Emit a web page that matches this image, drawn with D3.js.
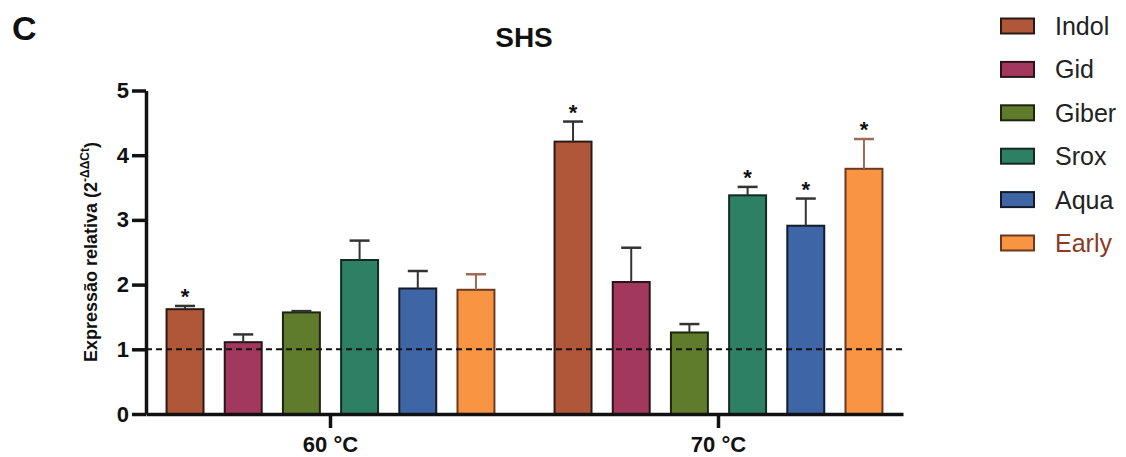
<!DOCTYPE html>
<html>
<head>
<meta charset="utf-8">
<script src="https://cdn.jsdelivr.net/npm/d3@7"></script>
<style>
  html, body { margin: 0; padding: 0; background: #fff; }
  svg { display: block; font-family: "Liberation Sans", Arial, sans-serif; }
</style>
</head>
<body>
<svg id="chart" width="1126" height="457"></svg>
<script>
// Temperature groups on the x axis
const groups = ["60 °C", "70 °C"];
// Treatments (one bar per treatment inside each group)
const treatments = ["Indol", "Gid", "Giber", "Srox", "Aqua", "Early"];

// Mean relative expression (2^-ΔΔCt), one value per group
const indolMean = [1.62, 4.21];
const gidMean   = [1.11, 2.04];
const giberMean = [1.57, 1.26];
const sroxMean  = [2.38, 3.38];
const aquaMean  = [1.94, 2.91];
const earlyMean = [1.92, 3.79];

// Upper error (standard error) for each bar
const indolErr = [0.05, 0.31];
const gidErr   = [0.12, 0.53];
const giberErr = [0.02, 0.13];
const sroxErr  = [0.30, 0.13];
const aquaErr  = [0.27, 0.42];
const earlyErr = [0.24, 0.46];

// Significance markers (*)
const indolSig = [true, true];
const gidSig   = [false, false];
const giberSig = [false, false];
const sroxSig  = [false, true];
const aquaSig  = [false, true];
const earlySig = [false, true];

const yTicks = [0, 1, 2, 3, 4, 5];
const referenceLevel = 1;

const means = [indolMean, gidMean, giberMean, sroxMean, aquaMean, earlyMean];
const errs  = [indolErr, gidErr, giberErr, sroxErr, aquaErr, earlyErr];
const sigs  = [indolSig, gidSig, giberSig, sroxSig, aquaSig, earlySig];

const fills   = ["#b0573a", "#a3385f", "#5e7c2c", "#2e8065", "#3e66a6", "#f99443"];
const strokes = ["#2a1a14", "#2a1418", "#1e2410", "#142a20", "#141c2a", "#6b3a1e"];
const errCols = ["#333333", "#333333", "#333333", "#333333", "#333333", "#a06a58"];
const legendText = ["#222", "#222", "#222", "#222", "#222", "#8a3b25"];

const rows = [];
groups.forEach((g, gi) => {
  treatments.forEach((t, ti) => {
    rows.push({ group: g, t, ti, mean: means[ti][gi], err: errs[ti][gi], sig: sigs[ti][gi] });
  });
});

const svg = d3.select("#chart");
const FONT = '"Liberation Sans", Arial, sans-serif';

const x0 = d3.scaleBand().domain(groups).range([146, 903])
  .paddingInner(0.098).paddingOuter(0.0245);
const x1 = d3.scaleBand().domain(treatments).range([0, x0.bandwidth()])
  .paddingInner(0.365).paddingOuter(0.19);
const y = d3.scaleLinear().domain([0, 5]).range([414, 90.5]);

// Panel letter and title
svg.append("text").attr("x", 12).attr("y", 40)
  .attr("font-size", 34).attr("font-weight", "bold").attr("fill", "#111").text("C");
svg.append("text").attr("x", 524).attr("y", 47).attr("text-anchor", "middle")
  .attr("font-size", 28).attr("font-weight", "bold").attr("fill", "#111").text("SHS");

// Bars
const bars = svg.append("g");
bars.selectAll("rect").data(rows).join("rect")
  .attr("x", d => x0(d.group) + x1(d.t))
  .attr("y", d => y(d.mean))
  .attr("width", x1.bandwidth())
  .attr("height", d => y(0) - y(d.mean))
  .attr("fill", d => fills[d.ti])
  .attr("stroke", d => strokes[d.ti])
  .attr("stroke-width", 2);

// Upper error bars
const capW = 20;
const eb = svg.append("g");
rows.forEach(d => {
  const cx = x0(d.group) + x1(d.t) + x1.bandwidth() / 2;
  const top = y(d.mean + d.err);
  eb.append("line").attr("x1", cx).attr("x2", cx).attr("y1", y(d.mean)).attr("y2", top)
    .attr("stroke", errCols[d.ti]).attr("stroke-width", 2);
  eb.append("line").attr("x1", cx - capW / 2).attr("x2", cx + capW / 2).attr("y1", top).attr("y2", top)
    .attr("stroke", errCols[d.ti]).attr("stroke-width", 2.5);
  if (d.sig) {
    eb.append("text").attr("x", cx).attr("y", top - 2).attr("text-anchor", "middle")
      .attr("font-size", 22).attr("font-weight", "bold").attr("fill", "#111").text("*");
  }
});

// Reference line at relative expression = 1
svg.append("line")
  .attr("x1", 146).attr("x2", 903)
  .attr("y1", y(referenceLevel)).attr("y2", y(referenceLevel))
  .attr("stroke", "#111").attr("stroke-width", 2).attr("stroke-dasharray", "6,4");

// Y axis
const yAxis = svg.append("g").attr("transform", "translate(146,0)")
  .call(d3.axisLeft(y).tickValues(yTicks).tickFormat(d3.format("d")).tickSize(14).tickSizeOuter(0).tickPadding(3));
yAxis.select(".domain").attr("stroke", "#111").attr("stroke-width", 3.5);
yAxis.selectAll(".tick line").attr("stroke", "#111").attr("stroke-width", 3.5);
yAxis.selectAll(".tick text").attr("font-family", FONT).attr("font-size", 22)
  .attr("font-weight", "bold").attr("fill", "#111");

// X axis
const xAxis = svg.append("g").attr("transform", "translate(0,414)")
  .call(d3.axisBottom(x0).tickSize(14).tickSizeOuter(0).tickPadding(8));
xAxis.select(".domain").attr("stroke", "#111").attr("stroke-width", 3.5);
xAxis.selectAll(".tick line").attr("stroke", "#111").attr("stroke-width", 3.5);
xAxis.selectAll(".tick text").attr("font-family", FONT).attr("font-size", 22)
  .attr("font-weight", "bold").attr("fill", "#111");

// Y axis title with superscript exponent
const yTitle = svg.append("text")
  .attr("transform", "translate(97,252) rotate(-90)")
  .attr("text-anchor", "middle")
  .attr("font-size", 18).attr("font-weight", "bold").attr("fill", "#111");
yTitle.append("tspan").text("Expressão relativa (2");
yTitle.append("tspan").attr("font-size", 12).attr("dy", -8).text("-ΔΔCt");
yTitle.append("tspan").attr("dy", 8).text(")");

// Legend
const legend = svg.append("g");
const rowGap = 43.4;
treatments.forEach((t, i) => {
  const cy = 26 + i * rowGap;
  legend.append("rect").attr("x", 1001).attr("y", cy - 7.5).attr("width", 33).attr("height", 15)
    .attr("fill", fills[i]).attr("stroke", strokes[i]).attr("stroke-width", 2);
  legend.append("text").attr("x", 1055).attr("y", cy + 9)
    .attr("font-size", 25).attr("fill", legendText[i]).text(t);
});
</script>
</body>
</html>
